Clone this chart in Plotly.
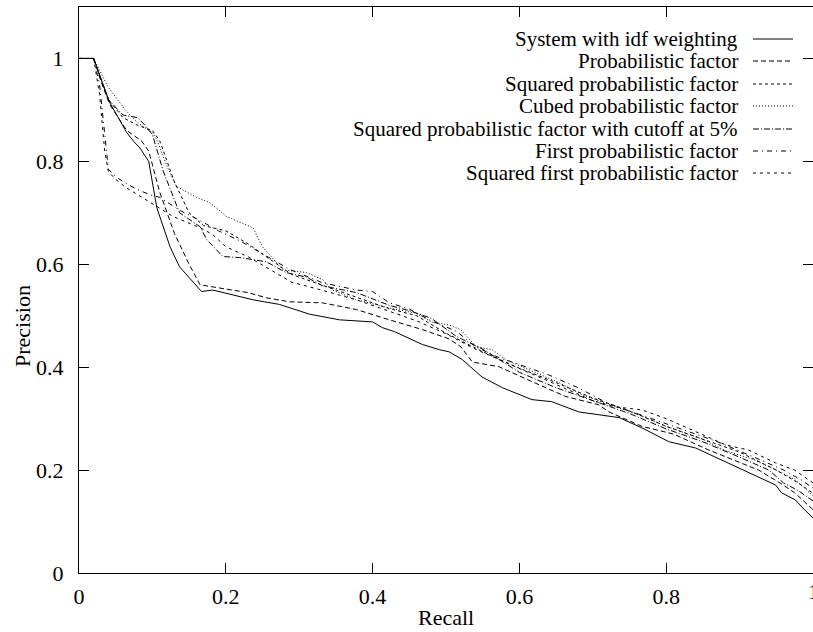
import plotly.graph_objects as go

# ---------------- data ----------------
series_names = [
    "System with idf weighting",
    "Probabilistic factor",
    "Squared probabilistic factor",
    "Cubed probabilistic factor",
    "Squared probabilistic factor with cutoff at 5%",
    "First probabilistic factor",
    "Squared first probabilistic factor",
]

idf_recall = [0, 0.02, 0.03, 0.042, 0.065, 0.075, 0.083, 0.095, 0.106, 0.124, 0.137, 0.167, 0.182,
              0.209, 0.237, 0.273, 0.314, 0.355, 0.40, 0.413, 0.43, 0.468, 0.491, 0.504, 0.522,
              0.549, 0.577, 0.617, 0.644, 0.681, 0.722, 0.736, 0.767, 0.804, 0.84, 0.881, 0.912,
              0.949, 0.957, 0.976, 0.985, 1.0]
idf_precision = [1, 1, 0.96, 0.914, 0.856, 0.838, 0.826, 0.8, 0.71, 0.634, 0.595, 0.547, 0.55,
                 0.541, 0.531, 0.522, 0.503, 0.492, 0.488, 0.477, 0.469, 0.444, 0.434, 0.43, 0.415,
                 0.381, 0.36, 0.337, 0.333, 0.313, 0.304, 0.302, 0.282, 0.255, 0.243, 0.216, 0.195,
                 0.171, 0.156, 0.142, 0.128, 0.107]

prob_recall = [0, 0.02, 0.03, 0.042, 0.065, 0.085, 0.095, 0.11, 0.13, 0.15, 0.165, 0.201, 0.23,
               0.255, 0.287, 0.332, 0.378, 0.423, 0.468, 0.504, 0.52, 0.536, 0.572, 0.617, 0.663,
               0.708, 0.722, 0.767, 0.81, 0.858, 0.90, 0.926, 0.955, 0.975, 1.0]
prob_precision = [1, 1, 0.955, 0.91, 0.86, 0.84, 0.82, 0.74, 0.66, 0.6, 0.56, 0.551, 0.545,
                  0.535, 0.527, 0.525, 0.512, 0.492, 0.473, 0.455, 0.44, 0.41, 0.401, 0.372, 0.343,
                  0.327, 0.313, 0.285, 0.27, 0.239, 0.215, 0.2, 0.175, 0.156, 0.123]

sq_recall = [0, 0.02, 0.04, 0.06, 0.08, 0.1, 0.11, 0.13, 0.15, 0.17, 0.2, 0.23, 0.26, 0.29, 0.33,
             0.38, 0.42, 0.46, 0.5, 0.55, 0.6, 0.65, 0.7, 0.75, 0.8, 0.85, 0.9, 0.95, 0.98, 1.0]
sq_precision = [1, 1, 0.92, 0.885, 0.87, 0.86, 0.84, 0.76, 0.7, 0.675, 0.665, 0.64, 0.61, 0.58, 0.56,
                0.535, 0.515, 0.5, 0.466, 0.43, 0.398, 0.37, 0.34, 0.315, 0.285, 0.26, 0.235, 0.2,
                0.175, 0.155]

cub_recall = [0, 0.02, 0.039, 0.063, 0.08, 0.1, 0.106, 0.12, 0.133, 0.16, 0.178, 0.201, 0.237, 0.25,
              0.278, 0.31, 0.332, 0.345, 0.378, 0.423, 0.459, 0.48, 0.504, 0.52, 0.541, 0.563,
              0.582, 0.62, 0.654, 0.686, 0.731, 0.767, 0.80, 0.85, 0.88, 0.92, 0.95, 0.975, 1.0]
cub_precision = [1, 1, 0.946, 0.9, 0.875, 0.856, 0.842, 0.79, 0.751, 0.73, 0.72, 0.693, 0.671, 0.634,
                 0.589, 0.584, 0.57, 0.55, 0.531, 0.515, 0.505, 0.488, 0.482, 0.473, 0.44, 0.434,
                 0.414, 0.391, 0.37, 0.346, 0.323, 0.305, 0.285, 0.26, 0.238, 0.22, 0.2, 0.182, 0.15]

cut_recall = [0, 0.02, 0.04, 0.06, 0.08, 0.09, 0.1, 0.115, 0.137, 0.165, 0.174, 0.196, 0.219, 0.255,
              0.282, 0.31, 0.332, 0.378, 0.423, 0.45, 0.48, 0.514, 0.55, 0.6, 0.65, 0.7, 0.75, 0.8,
              0.85, 0.9, 0.94, 0.96, 0.98, 1.0]
cut_precision = [1, 1, 0.92, 0.89, 0.885, 0.87, 0.852, 0.78, 0.70, 0.673, 0.648, 0.615, 0.613, 0.605,
                 0.584, 0.575, 0.558, 0.545, 0.52, 0.51, 0.495, 0.46, 0.435, 0.39, 0.36, 0.335, 0.31,
                 0.28, 0.255, 0.225, 0.2, 0.175, 0.16, 0.14]

first_recall = [0, 0.02, 0.028, 0.035, 0.04, 0.05, 0.063, 0.08, 0.097, 0.11, 0.137, 0.165, 0.19, 0.22,
                0.25, 0.287, 0.332, 0.378, 0.40, 0.423, 0.45, 0.48, 0.514, 0.54, 0.57, 0.60, 0.64,
                0.68, 0.72, 0.77, 0.82, 0.87, 0.92, 0.96, 0.985, 1.0]
first_precision = [1, 1, 0.95, 0.85, 0.785, 0.77, 0.758, 0.745, 0.735, 0.73, 0.705, 0.685, 0.665,
                   0.645, 0.62, 0.59, 0.564, 0.55, 0.547, 0.525, 0.513, 0.49, 0.47, 0.44, 0.42, 0.405,
                   0.385, 0.36, 0.33, 0.305, 0.28, 0.255, 0.225, 0.2, 0.18, 0.165]

sqfirst_recall = [0, 0.02, 0.028, 0.035, 0.04, 0.05, 0.063, 0.08, 0.097, 0.128, 0.165, 0.182, 0.2,
                  0.23, 0.26, 0.29, 0.33, 0.38, 0.42, 0.46, 0.5, 0.54, 0.58, 0.62, 0.66, 0.70, 0.73,
                  0.767, 0.80, 0.835, 0.881, 0.912, 0.949, 0.975, 0.99, 1.0]
sqfirst_precision = [1, 1, 0.93, 0.82, 0.78, 0.765, 0.75, 0.735, 0.72, 0.693, 0.671, 0.658, 0.634,
                     0.615, 0.59, 0.565, 0.55, 0.53, 0.51, 0.49, 0.465, 0.435, 0.41, 0.385, 0.36,
                     0.335, 0.323, 0.317, 0.3, 0.278, 0.249, 0.239, 0.214, 0.2, 0.185, 0.175]

x_ticks = [0, 0.2, 0.4, 0.6, 0.8]
x_tick_labels = ["0", "0.2", "0.4", "0.6", "0.8"]
x_edge_tick = 1
x_edge_label = "1"
y_ticks = [0, 0.2, 0.4, 0.6, 0.8, 1]
y_tick_labels = ["0", "0.2", "0.4", "0.6", "0.8", "1"]

# ---------------- styling ----------------
FONT = "Liberation Serif, Times New Roman, serif"
dashes = ["solid", "5px,3px", "3px,3px", "1px,2px", "6px,2px,1px,2px", "5px,4px,1px,4px", "3px,4px"]

xs = [idf_recall, prob_recall, sq_recall, cub_recall, cut_recall, first_recall, sqfirst_recall]
ys = [idf_precision, prob_precision, sq_precision, cub_precision, cut_precision, first_precision,
      sqfirst_precision]

fig = go.Figure()
for name, x, y, d in zip(series_names, xs, ys, dashes):
    fig.add_trace(go.Scatter(x=x, y=y, mode="lines", name=name, showlegend=False,
                             line=dict(color="black", width=1, dash=d)))

W, H = 813, 632
ML, MR, MT, MB = 79, 0, 7, 59
pw, ph = W - ML - MR, H - MT - MB

def px_x(p):
    return (p - ML) / pw

def px_y(p):
    return (H - MB - p) / ph

# gnuplot-style key: text right-aligned, line sample on the right
row_y = [39, 61, 84, 106, 129, 151, 173]
annotations = []
shapes = []
for name, d, ry in zip(series_names, dashes, row_y):
    annotations.append(dict(text=name, xref="paper", yref="paper", x=px_x(739), y=px_y(ry),
                            xanchor="right", yanchor="middle", showarrow=False, borderpad=0,
                            font=dict(family=FONT, size=21, color="black")))
    shapes.append(dict(type="line", xref="paper", yref="paper", x0=px_x(753), x1=px_x(793),
                       y0=px_y(ry), y1=px_y(ry), line=dict(color="black", width=1, dash=d)))

annotations.append(dict(text="Recall", xref="paper", yref="paper", x=0.5, y=px_y(617),
                        xanchor="center", yanchor="middle", showarrow=False,
                        font=dict(family=FONT, size=22, color="black")))
annotations.append(dict(text="Precision", xref="paper", yref="paper", x=px_x(22), y=px_y(326),
                        xanchor="center", yanchor="middle", showarrow=False, textangle=-90,
                        font=dict(family=FONT, size=22, color="black")))
# last x tick label sits on the window edge (half cut in the reference)
annotations.append(dict(text=x_edge_label, xref="x", yref="paper", x=x_edge_tick, y=0,
                        xanchor="center", yanchor="top", yshift=-4, showarrow=False,
                        font=dict(family=FONT, size=22, color="black")))

axis_common = dict(showline=True, linecolor="black", linewidth=1, mirror="ticks", ticks="inside",
                   ticklen=10, tickcolor="black", tickwidth=1, showgrid=False, zeroline=False,
                   tickfont=dict(family=FONT, size=22, color="black"))

fig.update_layout(
    width=W, height=H,
    margin=dict(l=ML, r=MR, t=MT, b=MB, pad=0),
    paper_bgcolor="white", plot_bgcolor="white",
    xaxis=dict(range=[0, 1.0], tickvals=x_ticks + [x_edge_tick], ticktext=x_tick_labels + [""],
               ticklabelstandoff=4, **axis_common),
    yaxis=dict(range=[0, 1.1], tickvals=y_ticks, ticktext=y_tick_labels, ticklabelstandoff=10,
               **axis_common),
    annotations=annotations,
    shapes=shapes,
    showlegend=False,
)

fig.write_html("out.html", config={"displayModeBar": False},
               post_script="document.body.style.margin='0';document.body.style.padding='0';"
                           "document.body.style.overflow='hidden';")
